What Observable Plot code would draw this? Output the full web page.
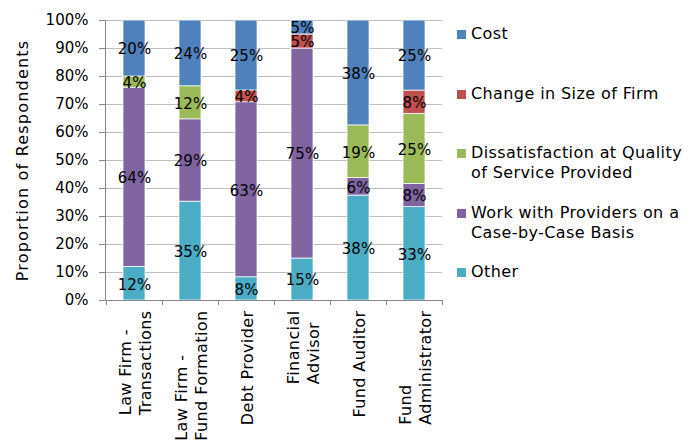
<!DOCTYPE html>
<html><head><meta charset="utf-8">
<script src="https://cdn.jsdelivr.net/npm/d3@7"></script>
<script src="https://cdn.jsdelivr.net/npm/@observablehq/plot@0.6"></script>
<style>
body{margin:0;background:#fff;}
#wrap{position:relative;width:697px;height:445px;font-family:"DejaVu Sans",sans-serif;}
#legend{position:absolute;left:457px;top:24px;}
.item{display:flex;align-items:flex-start;height:59.5px;font-size:16px;letter-spacing:0.4px;line-height:20px;color:#000;white-space:pre;}
.sw{width:9px;height:9px;margin-top:6px;margin-right:5px;flex:none;}
</style></head><body><div id="wrap"><div id="legend"></div></div>
<script>
const categories = ["Law Firm - Transactions","Law Firm - Fund Formation","Debt Provider","Financial Advisor","Fund Auditor","Fund Administrator"];
const categoryLabels = ["Law Firm -\nTransactions","Law Firm -\nFund Formation","Debt Provider","Financial\nAdvisor","Fund Auditor","Fund\nAdministrator"];
const seriesNames = ["Other","Work with Providers on a Case-by-Case Basis","Dissatisfaction at Quality of Service Provided","Change in Size of Firm","Cost"];
const seriesColors = ["#4BACC6","#8064A2","#9BBB59","#C0504D","#4F81BD"];
const other  = [12, 35.3, 8.3, 15, 37.5, 33.3];
const work   = [64, 29.4, 62.5, 75, 6.3, 8.3];
const dissat = [4, 11.8, 0, 0, 18.8, 25];
const change = [0, 0, 4.2, 5, 0, 8.3];
const cost   = [20, 23.5, 25, 5, 37.5, 25];
const yTickValues = [0,0.1,0.2,0.3,0.4,0.5,0.6,0.7,0.8,0.9,1];
const legendOrder = ["Cost","Change in Size of Firm","Dissatisfaction at Quality of Service Provided","Work with Providers on a Case-by-Case Basis","Other"];
const legendLabels = ["Cost","Change in Size of Firm","Dissatisfaction at Quality\nof Service Provided","Work with Providers on a\nCase-by-Case Basis","Other"];

const seriesValues = [other, work, dissat, change, cost];
const rows = [];
categories.forEach((c, i) => seriesNames.forEach((s, j) => rows.push({category: c, series: s, value: seriesValues[j][i]})));
const labelOf = new Map(categories.map((c, i) => [c, categoryLabels[i]]));

function categoryFrame(index, scales, values, dims) {
  const x = scales.x;
  const step = x.step(), bw = x.bandwidth();
  const y0 = dims.height - dims.marginBottom;
  const g = d3.create("svg:g").attr("stroke", "#868686").attr("fill", "none");
  g.append("line").attr("x1", dims.marginLeft + 0.5).attr("x2", dims.marginLeft + 0.5)
    .attr("y1", dims.marginTop).attr("y2", y0);
  const bounds = x.domain().map(c => x(c) + bw / 2 - step / 2);
  bounds.push(bounds[bounds.length - 1] + step);
  for (const b of bounds) {
    g.append("line").attr("x1", Math.round(b) + 0.5).attr("x2", Math.round(b) + 0.5).attr("y1", y0).attr("y2", y0 + 5);
  }
  g.append("line").attr("x1", dims.marginLeft).attr("x2", dims.width - dims.marginRight)
    .attr("y1", y0 + 0.5).attr("y2", y0 + 0.5);
  return g.node();
}

const stackOpts = {offset: "normalize", order: seriesNames, x: "category", y: "value", z: "series"};
const chart = Plot.plot({
  width: 697, height: 445,
  marginLeft: 105, marginRight: 255, marginTop: 20, marginBottom: 145,
  style: {fontFamily: "DejaVu Sans", fontSize: "15px", color: "#000", background: "transparent"},
  x: {domain: categories, paddingInner: 0.61, paddingOuter: 0.305, label: null},
  y: {domain: [0, 1], label: null},
  color: {domain: seriesNames, range: seriesColors},
  marks: [
    Plot.gridY(yTickValues, {stroke: "#bfbfbf", strokeOpacity: 1}),
    Plot.barY(rows, Plot.stackY({...stackOpts, fill: "series", stroke: "white", strokeWidth: 0.75})),
    Plot.text(rows.filter(d => d.value > 0), Plot.stackY({...stackOpts, text: d => Math.round(d.value) + "%", fill: "#000", dy: 1})),
    Plot.axisY({ticks: yTickValues, tickFormat: d3.format(".0%"), tickSize: 6, tickPadding: 11, stroke: "#868686",
      label: "Proportion of Respondents", labelAnchor: "center", labelOffset: 89, labelArrow: "none"}),
    Plot.axisX({tickSize: 0, tickPadding: 10, tickRotate: -90, tickFormat: c => labelOf.get(c), lineHeight: 1.25, label: null}),
    categoryFrame
  ]
});
document.getElementById("wrap").prepend(chart);

chart.querySelectorAll('g[aria-label="y-axis label"] text').forEach(t => {
  t.style.fontSize = "16px";
  t.style.letterSpacing = "1.2px";
});
const xg = chart.querySelector('g[aria-label="x-axis tick label"]');
if (xg) { xg.style.fontSize = "16px"; xg.style.letterSpacing = "0.4px"; }
// left-align multi-line category labels within their block (as in the original)
chart.querySelectorAll('g[aria-label="x-axis tick label"] text').forEach(t => {
  const spans = t.querySelectorAll("tspan");
  if (spans.length < 2) return;
  const L = Math.max(...Array.from(spans, s => s.getComputedTextLength()));
  t.setAttribute("text-anchor", "start");
  spans.forEach(s => s.setAttribute("x", -L));
});

const legend = d3.select("#legend");
legendOrder.forEach((s, i) => {
  const item = legend.append("div").attr("class", "item");
  item.append("div").attr("class", "sw").style("background", seriesColors[seriesNames.indexOf(s)]);
  item.append("div").text(legendLabels[i]);
});
</script></body></html>
